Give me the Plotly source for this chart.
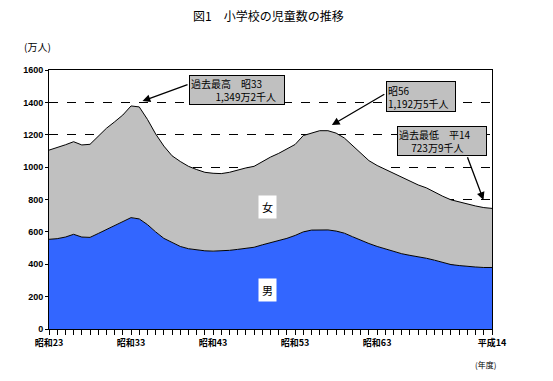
import plotly.graph_objects as go

# 年度 (1948 = 昭和23 ... 2002 = 平成14)
years = list(range(1948, 2003))

# 男 (万人)
male = [554, 558, 568, 585, 568, 566, 590, 615, 638, 660,
        688, 680, 645, 600, 560, 535, 510, 496, 488, 483,
        481, 482, 486, 492, 498, 505, 520, 532, 544, 560,
        578, 600, 611, 612, 612, 605, 592, 570, 548, 528,
        510, 495, 482, 465, 455, 448, 437, 425, 410, 398,
        392, 386, 383, 380, 380]

# 女 (万人)
female = [551, 562, 570, 572, 569, 575, 600, 625, 642, 662,
          690, 692, 650, 605, 570, 535, 525, 509, 497, 485,
          481, 478, 482, 490, 497, 500, 515, 530, 541, 555,
          562, 595, 601, 613, 613, 605, 588, 565, 537, 512,
          500, 490, 478, 470, 460, 442, 435, 420, 410, 400,
          393, 384, 377, 370, 365]

tick_years = [1948, 1958, 1968, 1978, 1988, 2002]
tick_labels = ["昭和23", "昭和33", "昭和43", "昭和53", "昭和63", "平成14"]

FONT = "Noto Sans CJK JP"

fig = go.Figure()
fig.add_trace(go.Scatter(x=years, y=male, name="男", stackgroup="s", mode="lines",
                         line=dict(color="black", width=1), fillcolor="#3366FF"))
fig.add_trace(go.Scatter(x=years, y=female, name="女", stackgroup="s", mode="lines",
                         line=dict(color="black", width=1), fillcolor="#C0C0C0"))

# page body margin (8px) offset: figure is placed at (8, 8) in the window
OFF = 8
W, H = 553 - 2 * OFF, 381 - 2 * OFF
# plot area in window (screen) pixels
L, R, T, B = 49, 492, 70, 329


def px(x):
    return (x - L) / (R - L)


def py(y):
    return (B - y) / (B - T)


annotations = [
    dict(text="図1　小学校の児童数の推移", x=px(268), y=py(16), xref="paper", yref="paper",
         xanchor="center", yanchor="middle", showarrow=False,
         font=dict(family=FONT, size=12, color="black")),
    dict(text="(万人)", x=px(22), y=py(47), xref="paper", yref="paper",
         xanchor="left", yanchor="middle", showarrow=False,
         font=dict(family=FONT, size=10, color="black")),
    dict(text="(年度)", x=px(498), y=py(364), xref="paper", yref="paper",
         xanchor="right", yanchor="middle", showarrow=False,
         font=dict(family=FONT, size=8, color="black")),
    dict(text="女", x=1974.6, y=754, xref="x", yref="y", showarrow=False,
         bgcolor="white", borderpad=3, font=dict(family=FONT, size=11, color="black")),
    dict(text="男", x=1974.6, y=241, xref="x", yref="y", showarrow=False,
         bgcolor="white", borderpad=3, font=dict(family=FONT, size=11, color="black")),
]

# callout boxes
boxes = [
    ("過去最高　昭33<br>\u3000\u3000\u00a0\u00a01,349万2千人", 189, 75, 92, 26),
    ("昭56<br>1,192万5千人", 386, 81, 66, 27),
    ("過去最低　平14<br>\u3000\u00a0723万9千人", 397, 126, 86, 26),
]
for text, bx, by, bw, bh in boxes:
    annotations.append(dict(text=text, x=px(bx), y=py(by), xref="paper", yref="paper",
                            xanchor="left", yanchor="top", showarrow=False, align="left",
                            width=bw, height=bh, valign="middle",
                            bgcolor="#C0C0C0", bordercolor="black", borderwidth=1, borderpad=1,
                            font=dict(family=FONT, size=10, color="black")))

# arrows (tail -> head), in data coordinates
arrows = [
    (1965.07, 1513, 1959.4, 1408),
    (1989.06, 1456, 1982.48, 1260),
    (1998.94, 1070, 2000.96, 797),
]
for tx, ty, hx, hy in arrows:
    annotations.append(dict(text="", x=hx, y=hy, ax=tx, ay=ty, xref="x", yref="y",
                            axref="x", ayref="y", showarrow=True, arrowhead=2,
                            arrowsize=1.2, arrowwidth=1.3, arrowcolor="black", standoff=0))

fig.update_layout(
    width=W, height=H,
    margin=dict(l=L - OFF, r=(W + OFF) - R, t=T - OFF, b=(H + OFF) - B, pad=0),
    paper_bgcolor="white", plot_bgcolor="white",
    showlegend=False,
    annotations=annotations,
    xaxis=dict(range=[1948, 2002], tickvals=tick_years, ticktext=tick_labels,
               ticks="outside", ticklen=5, tickcolor="black", tickwidth=1,
               showline=True, linecolor="black", linewidth=1, mirror=True,
               showgrid=False, zeroline=False,
               tickfont=dict(family=FONT, size=9, color="black", weight="bold"),
               minor=dict(ticks="outside", ticklen=5, dtick=1, tick0=1948,
                          tickcolor="black", tickwidth=1, showgrid=False)),
    yaxis=dict(range=[0, 1600], dtick=200, ticks="outside", ticklen=3,
               tickcolor="black", showline=True, linecolor="black", linewidth=1,
               mirror=True, showgrid=True, gridcolor="black", griddash="dash",
               gridwidth=1, zeroline=False,
               tickfont=dict(family="Liberation Sans", size=9, color="black", weight="bold")),
)

fig.write_html("out.html")
